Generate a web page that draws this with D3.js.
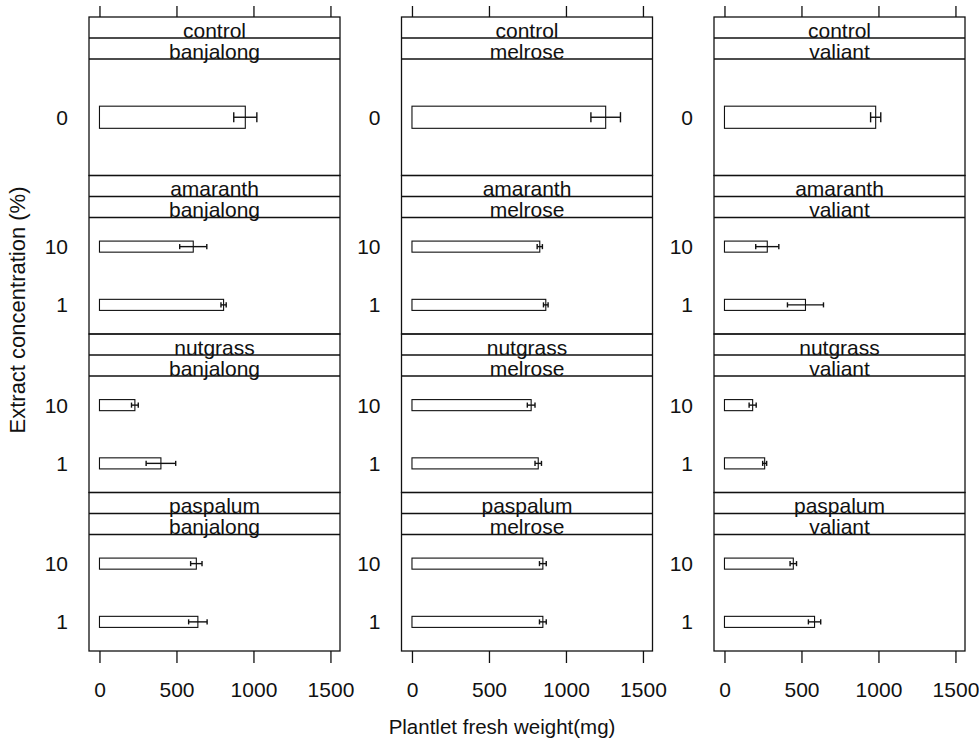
<!DOCTYPE html>
<html>
<head>
<meta charset="utf-8">
<script src="https://cdn.jsdelivr.net/npm/d3@7"></script>
<style>
    body { margin: 0; background: #ffffff; }
    text { font-family: "Liberation Sans", Arial, sans-serif; fill: #111; }
</style>
</head>
<body>
<div id="chart"></div>
<script>

// Panel factors
const extracts = ["control", "amaranth", "nutgrass", "paspalum"];
const cultivars = ["banjalong", "melrose", "valiant"];

// Concentration levels (top to bottom inside a panel)
const controlLevels = ["0"];
const treatLevels = ["10", "1"];

// Mean plantlet fresh weight (mg), per cultivar: banjalong, melrose, valiant
const meanControl = [947, 1258, 982];
const seControl = [75, 96, 33];

// Per cultivar, levels [10, 1]
const meanAmaranth = [[609, 806], [830, 869], [278, 526]];
const seAmaranth = [[88, 17], [17, 15], [75, 117]];

const meanNutgrass = [[230, 399], [774, 820], [183, 261]];
const seNutgrass = [[22, 96], [25, 21], [23, 13]];

const meanPaspalum = [[629, 639], [850, 850], [447, 585]];
const sePaspalum = [[37, 60], [22, 22], [21, 40]];

const xTicks = [0, 500, 1000, 1500];

const opt = {
    width: 979,
    height: 743,
    top: 17,
    bottom: 651,
    col_left: [89, 401.5, 714],
    col_width: 251,
    strip_height: 21,
    x_domain: [-68, 1562],
    bar_ratio: 0.19,
    stroke: "#111"
};

// Build the list of panels from the arrays above
function buildPanels() {
    let panels = [];
    extracts.forEach((ex, r) => {
        cultivars.forEach((cv, c) => {
            let levels, means, ses;
            if (ex === "control") {
                levels = controlLevels;
                means = [meanControl[c]];
                ses = [seControl[c]];
            } else {
                levels = treatLevels;
                let m = { amaranth: meanAmaranth, nutgrass: meanNutgrass, paspalum: meanPaspalum }[ex];
                let s = { amaranth: seAmaranth, nutgrass: seNutgrass, paspalum: sePaspalum }[ex];
                means = m[c];
                ses = s[c];
            }
            panels.push({
                row: r, col: c, extract: ex, cultivar: cv,
                data: levels.map((lv, i) => ({ level: lv, mean: means[i], se: ses[i] }))
            });
        });
    });
    return panels;
}

function drawChart() {
    let svg = d3.select("#chart").append("svg")
        .attr("width", opt.width)
        .attr("height", opt.height);

    svg.append("rect")
        .attr("width", opt.width)
        .attr("height", opt.height)
        .attr("fill", "#ffffff");

    let rowHeight = (opt.bottom - opt.top) / extracts.length;
    let panels = buildPanels();

    panels.forEach(p => {
        let x0 = opt.col_left[p.col];
        let y0 = opt.top + p.row * rowHeight;
        let contentTop = y0 + 2 * opt.strip_height;
        let contentBottom = y0 + rowHeight;

        let xScale = d3.scaleLinear()
            .domain(opt.x_domain)
            .range([x0, x0 + opt.col_width]);

        let yScale = d3.scaleBand()
            .domain(p.data.map(d => d.level))
            .range([contentTop, contentBottom])
            .paddingInner(1 - opt.bar_ratio)
            .paddingOuter((1 - opt.bar_ratio) / 2);

        let g = svg.append("g").attr("class", "panel");

        // Bars
        g.selectAll("rect.bar")
            .data(p.data)
            .enter()
            .append("rect")
            .attr("class", "bar")
            .attr("x", xScale(0))
            .attr("y", d => yScale(d.level))
            .attr("width", d => xScale(d.mean) - xScale(0))
            .attr("height", yScale.bandwidth())
            .attr("fill", "#ffffff")
            .attr("stroke", opt.stroke)
            .attr("stroke-width", 1.1);

        // Error bars
        let cap = yScale.bandwidth() * 0.23;
        let eb = g.selectAll("g.err")
            .data(p.data)
            .enter()
            .append("g")
            .attr("class", "err")
            .attr("stroke", opt.stroke)
            .attr("stroke-width", 1.4);

        eb.append("line")
            .attr("x1", d => xScale(d.mean - d.se))
            .attr("x2", d => xScale(d.mean + d.se))
            .attr("y1", d => yScale(d.level) + yScale.bandwidth() / 2)
            .attr("y2", d => yScale(d.level) + yScale.bandwidth() / 2);

        [-1, 1].forEach(sgn => {
            eb.append("line")
                .attr("x1", d => xScale(d.mean + sgn * d.se))
                .attr("x2", d => xScale(d.mean + sgn * d.se))
                .attr("y1", d => yScale(d.level) + yScale.bandwidth() / 2 - cap)
                .attr("y2", d => yScale(d.level) + yScale.bandwidth() / 2 + cap);
        });

        // Level labels left of the panel
        g.selectAll("text.level")
            .data(p.data)
            .enter()
            .append("text")
            .attr("class", "level")
            .attr("x", x0 - 21)
            .attr("y", d => yScale(d.level) + yScale.bandwidth() / 2)
            .attr("dy", "0.36em")
            .attr("text-anchor", "end")
            .attr("font-size", 21)
            .text(d => d.level);

        // Strips
        [p.extract, p.cultivar].forEach((label, i) => {
            let sy = y0 + i * opt.strip_height;
            g.append("line")
                .attr("x1", x0).attr("x2", x0 + opt.col_width)
                .attr("y1", sy + opt.strip_height).attr("y2", sy + opt.strip_height)
                .attr("stroke", opt.stroke)
                .attr("stroke-width", 1.3);
            g.append("text")
                .attr("x", x0 + opt.col_width / 2)
                .attr("y", sy + opt.strip_height - 0.5)
                .attr("text-anchor", "middle")
                .attr("font-size", 21)
                .text(label);
        });

        // Panel border
        g.append("rect")
            .attr("x", x0)
            .attr("y", y0)
            .attr("width", opt.col_width)
            .attr("height", rowHeight)
            .attr("fill", "none")
            .attr("stroke", opt.stroke)
            .attr("stroke-width", 1.3);
    });

    // Axes for each column: ticks on top, ticks and labels at the bottom
    cultivars.forEach((cv, c) => {
        let x0 = opt.col_left[c];
        let xScale = d3.scaleLinear()
            .domain(opt.x_domain)
            .range([x0, x0 + opt.col_width]);

        let bottomAxis = d3.axisBottom(xScale)
            .tickValues(xTicks)
            .tickFormat(d3.format("d"))
            .tickSize(12)
            .tickPadding(19)
            .tickSizeOuter(0);

        let gb = svg.append("g")
            .attr("transform", `translate(0,${opt.bottom})`)
            .call(bottomAxis);
        gb.select(".domain").remove();
        gb.selectAll("line").attr("stroke", opt.stroke).attr("stroke-width", 1.3);
        gb.selectAll("text")
            .attr("font-size", 21)
            .attr("font-family", "Liberation Sans, Arial, sans-serif")
            .attr("fill", "#111");

        let topAxis = d3.axisTop(xScale)
            .tickValues(xTicks)
            .tickSize(11)
            .tickFormat("")
            .tickSizeOuter(0);

        let gt = svg.append("g")
            .attr("transform", `translate(0,${opt.top})`)
            .call(topAxis);
        gt.select(".domain").remove();
        gt.selectAll("line").attr("stroke", opt.stroke).attr("stroke-width", 1.3);
    });

    // Axis titles
    svg.append("text")
        .attr("x", 502)
        .attr("y", 734)
        .attr("text-anchor", "middle")
        .attr("font-size", 20.5)
        .text("Plantlet fresh weight(mg)");

    svg.append("text")
        .attr("transform", "translate(25,310) rotate(-90)")
        .attr("text-anchor", "middle")
        .attr("font-size", 22)
        .text("Extract concentration (%)");
}

drawChart();
</script>
</body>
</html>
